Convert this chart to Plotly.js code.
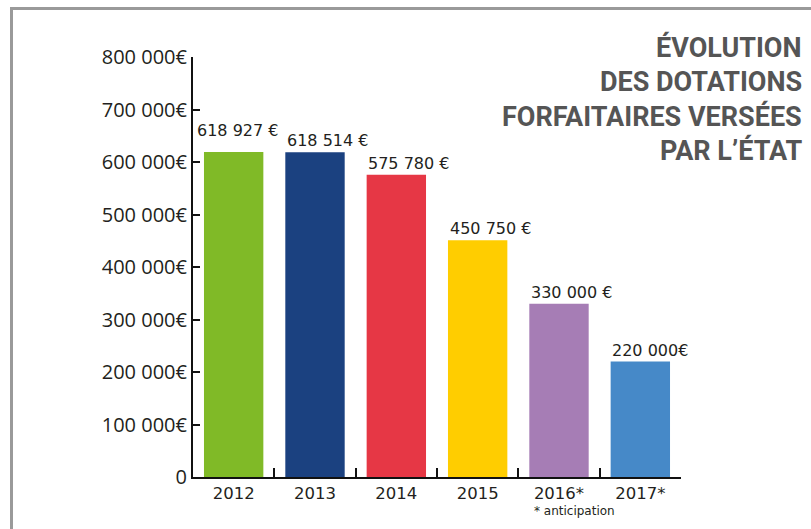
<!DOCTYPE html>
<html>
<head>
<meta charset="utf-8">
<script src="https://cdn.plot.ly/plotly-3.0.1.min.js"></script>
<style>
  body { margin: 0; background: #fff; }
  #frame { position: absolute; left: 10px; top: 7px; right: 0; bottom: 0;
           border-left: 3px solid #9a9a9a; border-top: 3px solid #9a9a9a; }
  #plot { position: absolute; left: 0; top: 0; width: 811px; height: 529px; }
</style>
</head>
<body>
<div id="frame"></div>
<div id="plot"></div>
<script>
// données
const years = ["2012", "2013", "2014", "2015", "2016*", "2017*"];
const amounts = [618927, 618514, 575780, 450750, 330000, 220000];
const amountLabels = ["618 927 €", "618 514 €", "575 780 €", "450 750 €", "330 000 €", "220 000€"];
const barColors = ["#80ba27", "#1b4180", "#e63745", "#ffcd00", "#a67db5", "#4689c8"];
const yTickVals = [0, 100000, 200000, 300000, 400000, 500000, 600000, 700000, 800000];
const yTickText = ["0", "100 000€", "200 000€", "300 000€", "400 000€", "500 000€", "600 000€", "700 000€", "800 000€"];
const titleLines = ["ÉVOLUTION", "DES DOTATIONS", "FORFAITAIRES VERSÉES", "PAR L’ÉTAT"];

const bars = {
    x: years,
    y: amounts,
    type: 'bar',
    marker: { color: barColors },
    hoverinfo: 'none'
};

// étiquettes au-dessus des barres (x en index : "2012" serait lu comme un nombre)
// la première est décalée pour ne pas chevaucher la suivante
const annotations = amounts.map((v, i) => ({
    x: i, y: v, xref: 'x', yref: 'y',
    text: amountLabels[i], showarrow: false,
    xanchor: 'left', yanchor: 'bottom',
    xshift: i === 0 ? -39 : -30,
    yshift: i === 0 ? 10 : 0,
    font: { family: 'DejaVu Sans', size: 16, color: '#231f20' }
}));

// note sous 2016
annotations.push({
    x: 4, y: 0, xref: 'x', yref: 'paper',
    text: '* anticipation', showarrow: false,
    xanchor: 'left', yanchor: 'middle', xshift: -27, yshift: -34,
    font: { family: 'DejaVu Sans', size: 12, color: '#231f20' }
});

// titre en haut à droite
titleLines.forEach((line, i) => {
    annotations.push({
        x: 1, y: 1, xref: 'paper', yref: 'paper',
        text: '<b>' + line + '</b>', showarrow: false,
        xanchor: 'right', yanchor: 'middle',
        xshift: 123, yshift: 10 - i * 34.5,
        font: { family: 'Roboto', size: 27, color: '#555555' }
    });
});

const layout = {
    width: 811, height: 529,
    margin: { l: 193, r: 130, t: 57, b: 52 },
    paper_bgcolor: 'rgba(0,0,0,0)',
    plot_bgcolor: 'rgba(0,0,0,0)',
    bargap: 0.27,
    showlegend: false,
    xaxis: {
        type: 'category',
        range: [-0.5, 5.5],
        showline: true, linecolor: '#111', linewidth: 2,
        ticks: 'inside', tickson: 'boundaries', ticklen: 9, tickwidth: 2, tickcolor: '#111',
        showgrid: false, zeroline: false,
        tickfont: { family: 'DejaVu Sans', size: 16.5, color: '#231f20' },
        fixedrange: true
    },
    yaxis: {
        range: [0, 800000],
        tickvals: yTickVals, ticktext: yTickText,
        showline: true, linecolor: '#111', linewidth: 2,
        ticks: 'inside', ticklen: 7, tickwidth: 2, tickcolor: '#111',
        showgrid: false, zeroline: false,
        tickfont: { family: 'Open Sans', size: 20, color: '#231f20' },
        fixedrange: true
    },
    annotations: annotations
};

Plotly.newPlot('plot', [bars], layout, { displayModeBar: false, staticPlot: true });
</script>
</body>
</html>
